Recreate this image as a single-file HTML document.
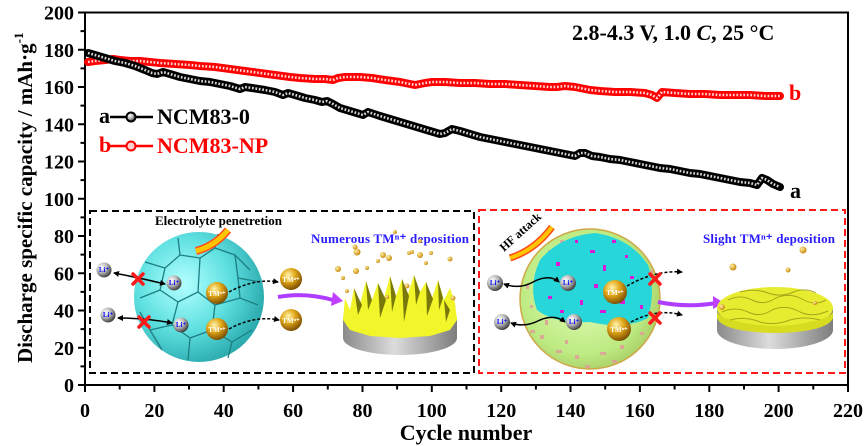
<!DOCTYPE html>
<html><head><meta charset="utf-8"><style>
html,body{margin:0;padding:0;background:#fff;}
svg{display:block;}
text{font-family:"Liberation Serif",serif;font-weight:bold;}
</style></head><body>
<svg width="865" height="446" viewBox="0 0 865 446" xmlns="http://www.w3.org/2000/svg">
<defs>
<radialGradient id="cy" cx="38%" cy="40%" r="65%"><stop offset="0" stop-color="#b4ffff"/><stop offset="0.55" stop-color="#5fe0e0"/><stop offset="1" stop-color="#2aa9ad"/></radialGradient>
<radialGradient id="li" cx="35%" cy="32%" r="70%"><stop offset="0" stop-color="#ffffff"/><stop offset="0.5" stop-color="#b9b9b9"/><stop offset="1" stop-color="#3f3f3f"/></radialGradient>
<radialGradient id="tm" cx="38%" cy="32%" r="70%"><stop offset="0" stop-color="#fff4b0"/><stop offset="0.45" stop-color="#e3a91a"/><stop offset="1" stop-color="#7a4c00"/></radialGradient>
<radialGradient id="gr" cx="45%" cy="45%" r="60%"><stop offset="0" stop-color="#e6ffbd"/><stop offset="0.75" stop-color="#bdea82"/><stop offset="1" stop-color="#a6cc62"/></radialGradient>
<linearGradient id="dg" x1="0" x2="1" y1="0" y2="0"><stop offset="0" stop-color="#8a8a8a"/><stop offset="0.45" stop-color="#dcdcdc"/><stop offset="1" stop-color="#7d7d7d"/></linearGradient>
<radialGradient id="gd" cx="35%" cy="35%" r="65%"><stop offset="0" stop-color="#fff0a0"/><stop offset="1" stop-color="#c88a10"/></radialGradient>
<marker id="ah" markerWidth="6" markerHeight="6" refX="5" refY="3" orient="auto-start-reverse" markerUnits="userSpaceOnUse"><path d="M0,0L6,3L0,6Z" fill="#000"/></marker>
</defs>

<!-- axes frame -->
<rect x="85" y="12.5" width="763" height="372.5" fill="none" stroke="#000" stroke-width="2"/>
<g stroke="#000" stroke-width="2">
<path d="M85,385V392M154.4,385V392M223.7,385V392M293.1,385V392M362.5,385V392M431.8,385V392M501.2,385V392M570.5,385V392M639.9,385V392M709.3,385V392M778.6,385V392M848,385V392"/>
<path d="M119.7,385V389.5M189,385V389.5M258.4,385V389.5M327.8,385V389.5M397.1,385V389.5M466.5,385V389.5M535.9,385V389.5M605.2,385V389.5M674.6,385V389.5M744,385V389.5M813.3,385V389.5"/>
<path d="M85,385H78M85,347.75H78M85,310.5H78M85,273.25H78M85,236H78M85,198.75H78M85,161.5H78M85,124.25H78M85,87H78M85,49.75H78M85,12.5H78"/>
<path d="M85,366.4H80.5M85,329.1H80.5M85,291.9H80.5M85,254.6H80.5M85,217.4H80.5M85,180.1H80.5M85,142.9H80.5M85,105.6H80.5M85,68.4H80.5M85,31.1H80.5"/>
</g>
<g font-size="20" text-anchor="end">
<text x="74" y="392">0</text><text x="74" y="354.75">20</text><text x="74" y="317.5">40</text><text x="74" y="280.25">60</text><text x="74" y="243">80</text><text x="74" y="205.75">100</text><text x="74" y="168.5">120</text><text x="74" y="131.25">140</text><text x="74" y="94">160</text><text x="74" y="56.75">180</text><text x="74" y="19.5">200</text>
</g>
<g font-size="20" text-anchor="middle">
<text x="85" y="417">0</text><text x="154.4" y="417">20</text><text x="223.7" y="417">40</text><text x="293.1" y="417">60</text><text x="362.5" y="417">80</text><text x="431.8" y="417">100</text><text x="501.2" y="417">120</text><text x="570.5" y="417">140</text><text x="639.9" y="417">160</text><text x="709.3" y="417">180</text><text x="778.6" y="417">200</text><text x="848" y="417">220</text>
</g>
<text x="466" y="440" font-size="22" text-anchor="middle">Cycle number</text>
<text transform="translate(32,363) rotate(-90)" font-size="21">Discharge specific capacity / mAh·g<tspan font-size="13" dy="-9">-1</tspan></text>

<text x="572" y="40" font-size="22">2.8-4.3 V, 1.0 <tspan font-style="italic">C</tspan>, 25 °C</text>

<!-- curves -->
<g fill="none" stroke-linejoin="round" stroke-linecap="round">
<polyline stroke="#ff0000" stroke-width="8" points="88,62 95,61 105,60 113,59 120,60 130,61 140,61 150,62 160,63 175,64 190,65 200,66 215,67 230,69 245,71 260,73 275,75 290,77 300,78 315,79 325,79 333,80 338,78 345,77 360,77 372,78 385,80 400,82 410,84 415,85 425,83 432,82 445,82 460,83 475,83 490,84 505,84 520,85 535,86 550,87 557,87 565,86 575,87 590,90 600,91 615,92 630,92 645,93 652,95 657,98 662,92 675,93 690,94 705,94 720,95 735,95 750,95 765,96 780,96"/>
<polyline stroke="#ffd6d6" stroke-width="2.6" stroke-linecap="butt" stroke-dasharray="1.7 1.77" points="88,62 95,61 105,60 113,59 120,60 130,61 140,61 150,62 160,63 175,64 190,65 200,66 215,67 230,69 245,71 260,73 275,75 290,77 300,78 315,79 325,79 333,80 338,78 345,77 360,77 372,78 385,80 400,82 410,84 415,85 425,83 432,82 445,82 460,83 475,83 490,84 505,84 520,85 535,86 550,87 557,87 565,86 575,87 590,90 600,91 615,92 630,92 645,93 652,95 657,98 662,92 675,93 690,94 705,94 720,95 735,95 750,95 765,96 780,96"/>
<polyline stroke="#000" stroke-width="8" points="88,53 95,55 105,58 115,61 125,63 135,66 145,70 152,73 157,74 163,72 170,74 180,77 190,79 200,81 210,82 220,84 230,86 240,89 245,87 252,88 265,90 275,92 283,95 288,93 295,95 305,98 315,100 322,102 327,101 333,104 340,108 350,111 360,114 363,115 368,112 380,116 390,119 400,122 410,125 420,128 430,131 440,134 445,133 452,129 460,131 470,134 480,137 490,139 500,141 510,143 520,145 530,147 545,150 560,153 575,156 580,153 585,153 592,156 600,157 610,159 620,160 630,162 640,164 650,166 660,168 670,169 680,171 690,173 700,174 710,176 720,178 730,180 740,182 750,183 757,185 762,178 767,180 773,184 780,187"/>
<polyline stroke="#d8d8d8" stroke-width="2.6" stroke-linecap="butt" stroke-dasharray="1.7 1.77" points="88,53 95,55 105,58 115,61 125,63 135,66 145,70 152,73 157,74 163,72 170,74 180,77 190,79 200,81 210,82 220,84 230,86 240,89 245,87 252,88 265,90 275,92 283,95 288,93 295,95 305,98 315,100 322,102 327,101 333,104 340,108 350,111 360,114 363,115 368,112 380,116 390,119 400,122 410,125 420,128 430,131 440,134 445,133 452,129 460,131 470,134 480,137 490,139 500,141 510,143 520,145 530,147 545,150 560,153 575,156 580,153 585,153 592,156 600,157 610,159 620,160 630,162 640,164 650,166 660,168 670,169 680,171 690,173 700,174 710,176 720,178 730,180 740,182 750,183 757,185 762,178 767,180 773,184 780,187"/>
</g>
<text x="789" y="100" font-size="22" fill="#ff0000">b</text>
<text x="790" y="198" font-size="22">a</text>

<!-- legend -->
<text x="99" y="123" font-size="22">a</text>
<line x1="110" y1="117" x2="153" y2="117" stroke="#000" stroke-width="2.5"/>
<circle cx="131" cy="117" r="4.5" fill="url(#li)" stroke="#000" stroke-width="2"/>
<text x="157" y="124" font-size="22">NCM83-0</text>
<text x="99" y="152" font-size="22" fill="#ff0000">b</text>
<line x1="110" y1="146" x2="153" y2="146" stroke="#ff0000" stroke-width="2.5"/>
<circle cx="131" cy="146" r="4.5" fill="#ffd0d0" stroke="#ff0000" stroke-width="2"/>
<text x="157" y="153" font-size="22" fill="#ff0000">NCM83-NP</text>

<!-- inset 1 -->
<rect x="90" y="211" width="384" height="162" fill="#fff" stroke="#000" stroke-width="2" stroke-dasharray="7 4"/>
<text x="155" y="225" font-size="13" textLength="127">Electrolyte penetretion</text>
<circle cx="199" cy="297" r="65" fill="url(#cy)"/>
<g fill="none" stroke="#1c7f82" stroke-width="1.3">
<path d="M145,262 L165,268 L180,255 L200,258 L215,248 L235,255 L250,270"/>
<path d="M165,268 L160,290 L140,298"/>
<path d="M160,290 L178,302 L198,292 L200,258"/>
<path d="M198,292 L215,305 L240,298 L258,305"/>
<path d="M178,302 L172,325 L150,330"/>
<path d="M172,325 L190,338 L212,330 L215,305"/>
<path d="M190,338 L188,360"/>
<path d="M212,330 L232,342 L252,330"/>
<path d="M232,342 L228,358"/>
<path d="M235,255 L238,278 L240,298"/>
<path d="M180,255 L178,238"/>
<path d="M215,248 L218,234"/>
<path d="M238,278 L260,282"/>
<path d="M140,312 L150,330 L162,350"/>
</g>
<path d="M196,251 Q215,246 228,230" fill="none" stroke="#ff4a1a" stroke-width="8" stroke-linecap="butt"/>
<path d="M196,251 Q215,246 228,230" fill="none" stroke="#ffc400" stroke-width="5" stroke-linecap="butt"/>
<g fill="none" stroke="#000" stroke-width="1.5">
<path d="M114,273 Q140,278 165,284" marker-start="url(#ah)" marker-end="url(#ah)"/>
<path d="M118,318 Q145,318 172,323" marker-start="url(#ah)" marker-end="url(#ah)"/>
<path d="M229,292 Q255,278 278,282" stroke-dasharray="3 2" marker-end="url(#ah)"/>
<path d="M229,329 Q255,315 279,320" stroke-dasharray="3 2" marker-end="url(#ah)"/>
</g>
<path d="M278,297 Q305,292 333,300" fill="none" stroke="#b03cff" stroke-width="4"/>
<polygon points="333,292 343,301 331,306" fill="#c040ff"/>
<g font-size="7" fill="#1010ff" text-anchor="middle">
<circle cx="104" cy="270" r="7.5" fill="url(#li)"/><text x="104" y="272">Li⁺</text>
<circle cx="108" cy="315" r="7.5" fill="url(#li)"/><text x="108" y="317">Li⁺</text>
<circle cx="174" cy="283" r="7.5" fill="url(#li)"/><text x="174" y="285">Li⁺</text>
<circle cx="181" cy="325" r="7.5" fill="url(#li)"/><text x="181" y="327">Li⁺</text>
</g>
<g stroke="#ff1a1a" stroke-width="3.5" stroke-linecap="round">
<path d="M133,274L143,284M143,274L133,284"/>
<path d="M139,317L149,327M149,317L139,327"/>
</g>
<g font-size="7" fill="#fff" text-anchor="middle">
<circle cx="217" cy="293" r="11" fill="url(#tm)"/><text x="217" y="296">TMⁿ⁺</text>
<circle cx="217" cy="329" r="11" fill="url(#tm)"/><text x="217" y="332">TMⁿ⁺</text>
<circle cx="291" cy="279" r="11" fill="url(#tm)"/><text x="291" y="282">TMⁿ⁺</text>
<circle cx="291" cy="320" r="11" fill="url(#tm)"/><text x="291" y="323">TMⁿ⁺</text>
</g>
<text x="311" y="243" font-size="13" fill="#2a1cff" textLength="158">Numerous TMⁿ⁺ deposition</text>
<!-- spiky disk -->
<ellipse cx="400" cy="338" rx="57" ry="17" fill="url(#dg)"/>
<rect x="343" y="318" width="114" height="20" fill="url(#dg)"/>
<ellipse cx="400" cy="318" rx="57" ry="17" fill="#e4ec1a"/>
<polygon points="343,320 345,298 350,310 354,288 360,304 366,281 372,300 378,283 384,298 390,276 396,296 402,279 408,294 414,275 420,292 426,282 432,298 438,280 444,300 450,288 455,303 457,320 450,330 430,336 400,338 370,336 350,330" fill="#f2f52a"/>
<g fill="#505000" opacity="0.75">
<polygon points="354,288 358,315 362,305"/><polygon points="378,283 380,318 386,300"/><polygon points="402,279 404,322 409,296"/><polygon points="426,282 427,316 433,299"/><polygon points="444,300 446,322 450,310"/><polygon points="366,281 368,310 372,300"/><polygon points="414,275 416,305 420,292"/><polygon points="390,276 392,312 396,296"/><polygon points="438,280 439,310 443,298"/>
</g>
<g fill="url(#gd)">
<circle cx="356" cy="271" r="3"/><circle cx="357" cy="252" r="3.5"/><circle cx="355" cy="247" r="2.5"/><circle cx="367" cy="268" r="2"/><circle cx="378" cy="261" r="2"/><circle cx="383" cy="255" r="3"/><circle cx="389" cy="258" r="3"/><circle cx="395" cy="232" r="2"/><circle cx="409" cy="253" r="2"/><circle cx="412" cy="252" r="2"/><circle cx="420" cy="255" r="3"/><circle cx="426" cy="263" r="2"/><circle cx="431" cy="253" r="2"/><circle cx="450" cy="259" r="2.5"/><circle cx="347" cy="291" r="2"/><circle cx="338" cy="269" r="3"/><circle cx="343" cy="278" r="2"/><circle cx="420" cy="241" r="2"/><circle cx="407" cy="286" r="2.5"/><circle cx="387" cy="297" r="2"/><circle cx="453" cy="298" r="2.5"/>
</g>

<!-- inset 2 -->
<rect x="479" y="210" width="366" height="163" fill="#fff" stroke="#ff1a1a" stroke-width="2" stroke-dasharray="7 4"/>
<circle cx="590" cy="299" r="70" fill="url(#gr)" stroke="#d0a848" stroke-width="1.5"/>
<g fill="#e39a9a" opacity="0.8">
<rect x="540" y="335" width="4" height="4"/><rect x="556" y="350" width="6" height="3"/><rect x="575" y="355" width="4" height="4"/><rect x="600" y="352" width="6" height="3"/><rect x="620" y="345" width="4" height="4"/><rect x="545" y="320" width="3" height="5"/><rect x="640" y="332" width="4" height="3"/><rect x="585" y="365" width="5" height="3"/><rect x="530" y="305" width="3" height="3"/><rect x="632" y="250" width="4" height="4"/><rect x="650" y="270" width="3" height="5"/><rect x="560" y="240" width="4" height="3"/><rect x="530" y="330" width="5" height="3"/><rect x="565" y="340" width="3" height="4"/><rect x="612" y="360" width="5" height="3"/><rect x="635" y="318" width="3" height="3"/><rect x="526" y="285" width="3" height="4"/><rect x="548" y="250" width="3" height="3"/>
</g>
<path d="M540,260 Q560,236 595,233 Q630,238 648,265 Q656,290 648,318 Q625,330 590,322 Q555,324 537,310 Q528,285 540,260Z" fill="#26d6d9"/>
<g fill="#d61ad6">
<rect x="556" y="262" width="4" height="4"/><rect x="590" y="250" width="5" height="3"/><rect x="603" y="265" width="3" height="6"/><rect x="620" y="300" width="5" height="4"/><rect x="630" y="276" width="4" height="3"/><rect x="600" y="310" width="6" height="3"/><rect x="580" y="300" width="3" height="5"/><rect x="548" y="296" width="4" height="3"/><rect x="575" y="240" width="3" height="3"/><rect x="612" y="240" width="4" height="3"/><rect x="640" y="305" width="3" height="4"/><rect x="594" y="284" width="4" height="4"/><rect x="560" y="310" width="4" height="3"/><rect x="625" y="255" width="3" height="3"/>
</g>
<path d="M510,258 Q535,250 552,227" fill="none" stroke="#ff4a1a" stroke-width="7"/>
<path d="M510,258 Q535,250 552,227" fill="none" stroke="#ffc400" stroke-width="4"/>
<text transform="translate(504,252) rotate(-42)" font-size="12">HF attack</text>
<g fill="none" stroke="#000" stroke-width="1.5">
<path d="M504,284 Q520,290 535,281 Q550,274 559,282" marker-start="url(#ah)" marker-end="url(#ah)"/>
<path d="M511,323 Q525,328 540,320 Q555,314 565,322" marker-start="url(#ah)" marker-end="url(#ah)"/>
<path d="M627,286 Q655,270 682,272" stroke-dasharray="3 2" marker-end="url(#ah)"/>
<path d="M631,322 Q657,308 682,315" stroke-dasharray="3 2" marker-end="url(#ah)"/>
</g>
<path d="M658,302 Q688,308 716,303" fill="none" stroke="#b03cff" stroke-width="4"/>
<polygon points="713,296 724,303 713,309" fill="#c040ff"/>
<g font-size="7" fill="#1010ff" text-anchor="middle">
<circle cx="495" cy="283" r="8" fill="url(#li)"/><text x="495" y="285">Li⁺</text>
<circle cx="502" cy="322" r="8" fill="url(#li)"/><text x="502" y="324">Li⁺</text>
<circle cx="568" cy="283" r="8" fill="url(#li)"/><text x="568" y="285">Li⁺</text>
<circle cx="574" cy="322" r="8" fill="url(#li)"/><text x="574" y="324">Li⁺</text>
</g>
<g font-size="7" fill="#fff" text-anchor="middle">
<circle cx="615" cy="292" r="12" fill="url(#tm)"/><text x="615" y="295">TMⁿ⁺</text>
<circle cx="619" cy="329" r="12" fill="url(#tm)"/><text x="619" y="332">TMⁿ⁺</text>
</g>
<g stroke="#ff1a1a" stroke-width="3.5" stroke-linecap="round">
<path d="M650,274L660,284M660,274L650,284"/>
<path d="M650,313L660,323M660,313L650,323"/>
</g>
<text x="703" y="243" font-size="13" fill="#2a1cff" textLength="132">Slight TMⁿ⁺ deposition</text>
<ellipse cx="775" cy="330" rx="58" ry="19" fill="url(#dg)"/>
<rect x="717" y="308" width="116" height="22" fill="url(#dg)"/>
<ellipse cx="775" cy="308" rx="58" ry="21" fill="#e8ec30"/>
<path d="M717,312 Q720,318 740,322 Q775,330 810,322 Q830,318 833,312 L833,318 Q830,326 810,330 Q775,336 740,330 Q720,326 717,318Z" fill="#d8dc20"/>
<g fill="none" stroke="#8a8a10" stroke-width="1" opacity="0.7">
<path d="M728,300 Q740,294 752,300 Q764,306 776,298 Q790,292 804,300 Q815,306 826,300"/>
<path d="M722,312 Q735,306 748,312 Q760,318 772,310 Q786,304 800,312 Q812,318 828,311"/>
<path d="M740,292 Q755,288 768,293 Q782,298 796,291 Q808,288 816,293"/>
<path d="M730,320 Q745,316 760,322 Q775,326 790,320 Q805,316 820,320"/>
</g>
<g fill="url(#gd)">
<circle cx="733" cy="267" r="3.5"/><circle cx="788" cy="270" r="2.5"/><circle cx="803" cy="250" r="3.5"/><circle cx="722" cy="307" r="3"/><circle cx="815" cy="303" r="2"/>
</g>
</svg>
</body></html>
